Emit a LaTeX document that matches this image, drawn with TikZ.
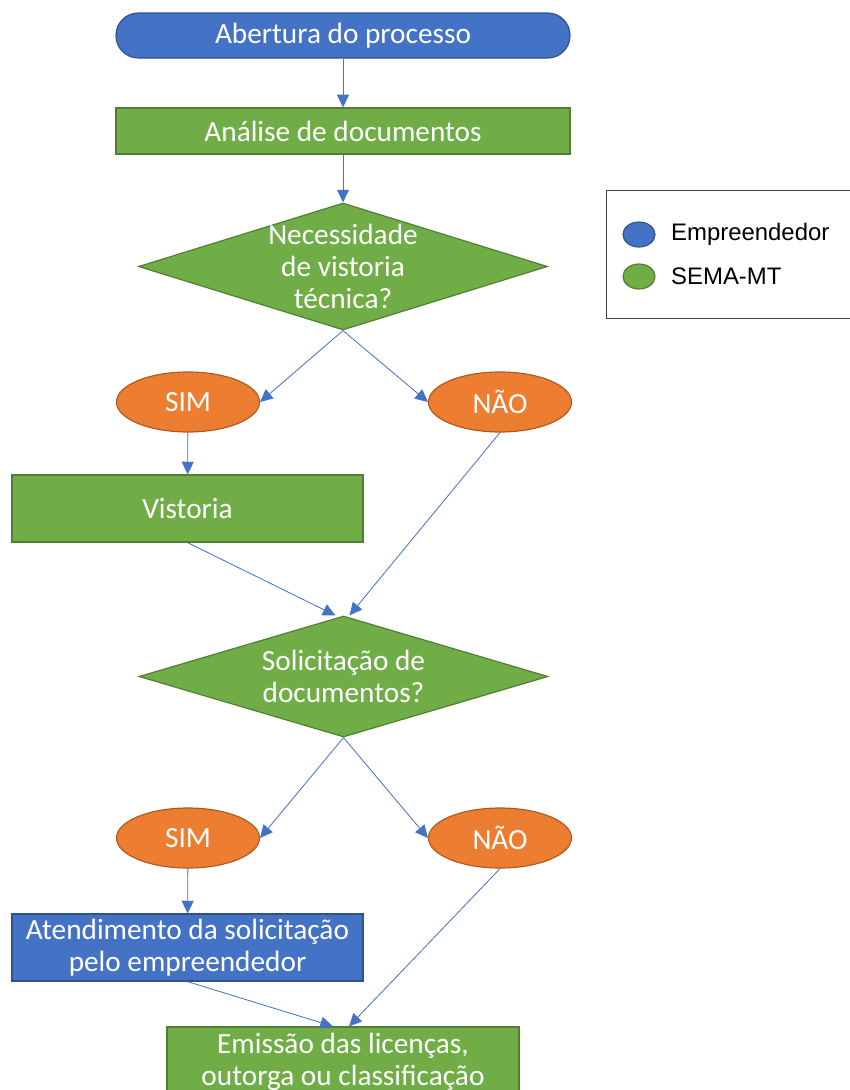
\documentclass[tikz,border=0pt]{standalone}
\usepackage{fontspec}
\setmainfont{Carlito}
\newfontfamily\legfont{Liberation Sans}
\usetikzlibrary{shapes.geometric,arrows.meta}
\definecolor{azul}{HTML}{4472C4}
\definecolor{azulborda}{HTML}{2F528F}
\definecolor{verde}{HTML}{70AD47}
\definecolor{verdeborda}{HTML}{507E32}
\definecolor{laranja}{HTML}{ED7D31}
\definecolor{laranjaborda}{HTML}{AE5A21}
\newcommand{\flowfont}{\fontsize{25}{27.3}\selectfont}
\begin{document}
\begin{tikzpicture}[x=0.03cm, y=-0.03cm,
  txt/.style={text=white, align=center, font=\flowfont},
  inicio/.style={txt, rectangle, rounded corners=0.67cm, fill=azul, draw=azulborda, line width=1pt, minimum width=13.62cm, minimum height=1.35cm, inner sep=0pt},
  caixa/.style={txt, rectangle, draw=verdeborda, fill=verde, line width=1pt, inner sep=0pt},
  caixaazul/.style={caixa, draw=azulborda, fill=azul},
  decisao/.style={diamond, fill=verde, draw=verdeborda, line width=1pt, inner sep=0pt, minimum width=12.27cm},
  resposta/.style={txt, ellipse, fill=laranja, draw=laranjaborda, line width=1pt, inner sep=0pt, minimum width=4.29cm, minimum height=1.8cm},
  seta/.style={draw=azul, line width=0.7pt, -{Triangle[length=0.38cm,width=0.36cm]}},
  legcirc/.style={ellipse, draw=#1borda, fill=#1, line width=1pt, minimum width=0.96cm, minimum height=0.75cm, inner sep=0pt},
  legtxt/.style={anchor=west, inner sep=0pt, font=\legfont\fontsize{20.4}{24}\selectfont}]
\useasboundingbox (0,0) rectangle (850,1090);
% fluxo principal
\node[inicio] (abertura) at (343,35.5) {Abertura do processo};
\node[caixa, minimum width=13.62cm, minimum height=1.38cm] (analise) at (343,131) {Análise de documentos};
\node[decisao, minimum height=3.81cm, label={[txt]center:Necessidade\\de vistoria\\técnica?}] (nec) at (343,266.5) {};
\node[resposta] (sim1) at (188,402) {SIM};
\node[resposta] (nao1) at (500,402) {NÃO};
\node[caixa, minimum width=10.53cm, minimum height=2.01cm] (vist) at (187.5,508.5) {Vistoria};
\node[decisao, minimum height=3.63cm, label={[txt]center:Solicitação de\\documentos?}] (solic) at (343.5,676.5) {};
\node[resposta] (sim2) at (188,838) {SIM};
\node[resposta] (nao2) at (500,838) {NÃO};
\node[caixaazul, minimum width=10.53cm, minimum height=2.01cm] (atend) at (187.5,947.5) {Atendimento da solicitação\\pelo empreendedor};
\node[caixa, minimum width=10.56cm, minimum height=2.1cm] (emis) at (343,1062) {Emissão das licenças,\\outorga ou classificação};
% conectores
\draw[seta] (abertura) -- (analise);
\draw[seta] (analise) -- (nec);
\draw[seta] (nec.south) -- (sim1.east);
\draw[seta] (nec.south) -- (nao1.west);
\draw[seta] (sim1) -- (vist);
\draw[seta] (vist.south) -- ([xshift=-0.24cm]solic.north);
\draw[seta] (nao1.south) -- ([xshift=0.18cm]solic.north);
\draw[seta] (solic.south) -- (sim2.east);
\draw[seta] (solic.south) -- (nao2.west);
\draw[seta] (sim2) -- (atend);
\draw[seta] (atend.south) -- ([xshift=-0.3cm]emis.north);
\draw[seta] (nao2.south) -- ([xshift=0.18cm]emis.north);
% legenda
\draw[black!75, line width=0.8pt] (606,190) rectangle (870,318);
\node[legcirc=azul] (legemp) at (639,234.5) {};
\node[legcirc=verde] (legsema) at (639,276.5) {};
\node[legtxt] (legemptxt) at (671,234.5) {Empreendedor};
\node[legtxt] (legsematxt) at (671,276.5) {SEMA-MT};
\end{tikzpicture}
\end{document}
